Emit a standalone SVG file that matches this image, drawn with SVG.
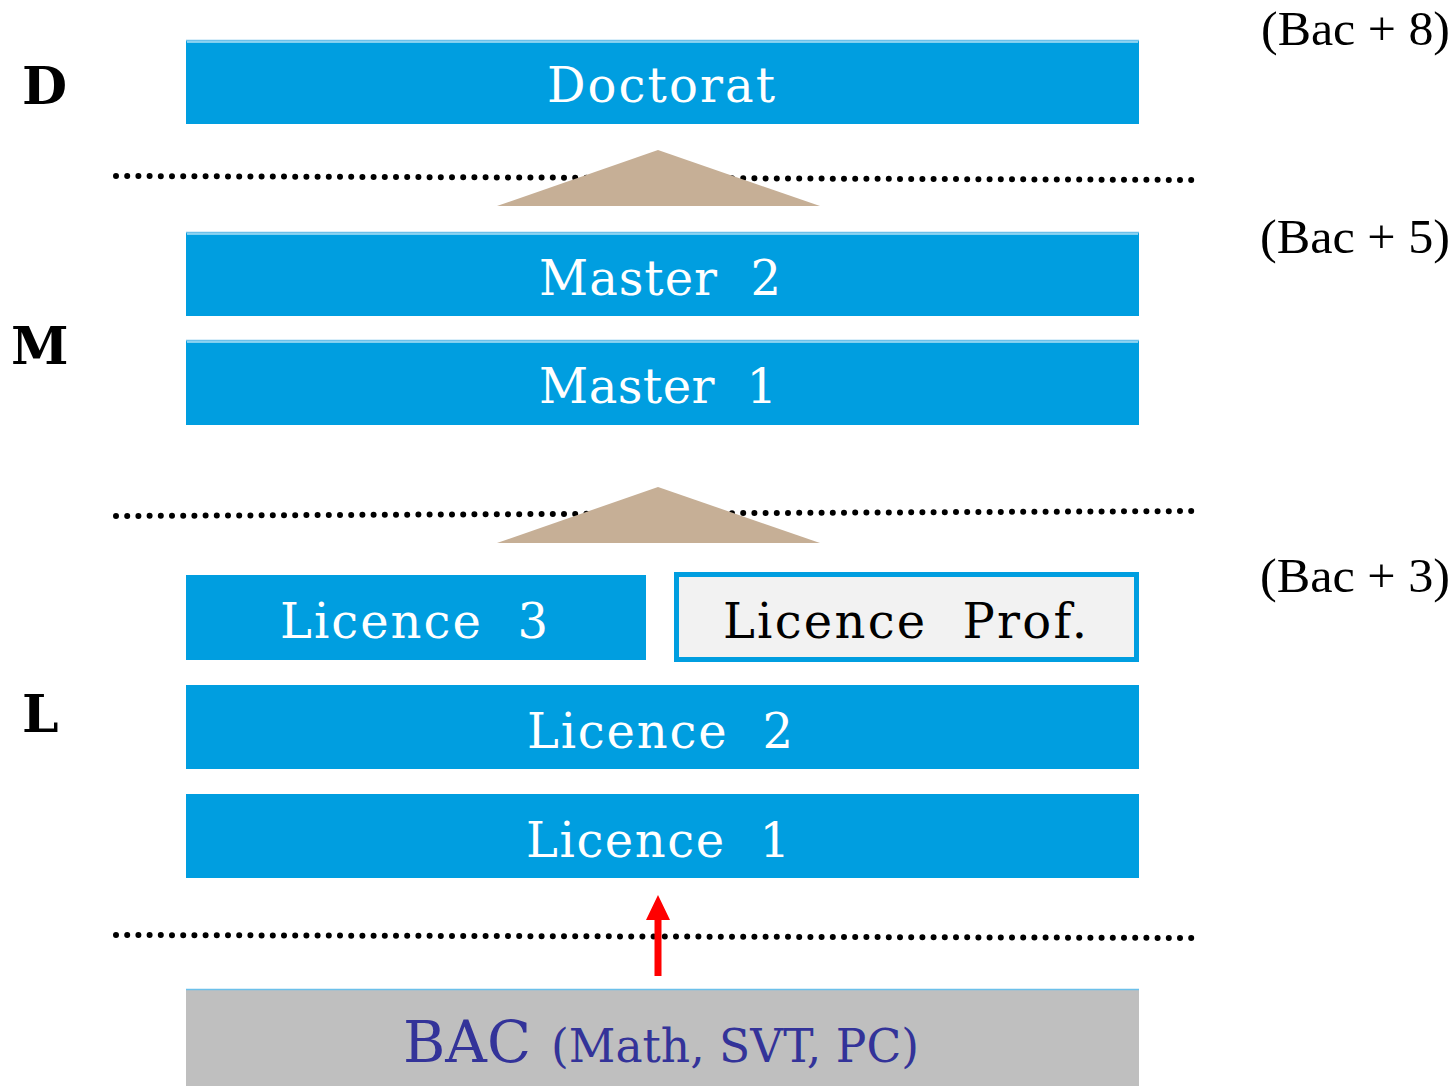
<svg xmlns="http://www.w3.org/2000/svg" width="1456" height="1086" viewBox="0 0 1456 1086">
<style>
.box{fill:#009ee0}
.top{stroke:#6cc0ea;stroke-width:1.5}
.lbl{font-family:"DejaVu Serif",serif;font-size:48px;fill:#ffffff;text-anchor:middle;white-space:pre}
.side{font-family:"DejaVu Serif",serif;font-weight:bold;font-size:52px;fill:#000}
.bac{font-family:"Liberation Serif",serif;font-size:48px;fill:#000}
.dots{stroke:#000;stroke-width:6;stroke-linecap:round;stroke-dasharray:0 11.2;fill:none}
.tri{fill:#c6af96}
</style>
<g id="connectors">
<line class="dots" x1="116" y1="176" x2="1199" y2="180"/>
<line class="dots" x1="116" y1="516" x2="1199" y2="511"/>
<line class="dots" x1="116" y1="935" x2="1199" y2="938"/>
<polygon class="tri" points="658,150 820,206 497,206"/>
<polygon class="tri" points="658,487 820,543 497,543"/>
<polygon fill="#ff0000" points="654.5,976 661.5,976 661.5,920 670,920 658,895 646,920 654.5,920"/>
</g>
<g id="side-labels">
<text class="side" x="22" y="104">D</text>
<text class="side" x="11" y="364">M</text>
<text class="side" x="22" y="732">L</text>
<text class="bac" x="1261" y="45" textLength="189" lengthAdjust="spacingAndGlyphs">(Bac + 8)</text>
<text class="bac" x="1260" y="253" textLength="190" lengthAdjust="spacingAndGlyphs">(Bac + 5)</text>
<text class="bac" x="1260" y="592" textLength="190" lengthAdjust="spacingAndGlyphs">(Bac + 3)</text>
</g>
<g id="doctorat">
<rect class="box" x="186" y="40" width="953" height="84"/>
<line class="top" x1="186" y1="40.5" x2="1139" y2="40.5"/>
<line stroke="#ffffff" stroke-width="1" x1="187" y1="42" x2="1138" y2="42"/>
<text class="lbl" x="661" y="102" textLength="228" lengthAdjust="spacing">Doctorat</text>
</g>
<g id="master2">
<rect class="box" x="186" y="232" width="953" height="84"/>
<line class="top" x1="186" y1="232.5" x2="1139" y2="232.5"/>
<line stroke="#ffffff" stroke-width="1" x1="187" y1="234" x2="1138" y2="234"/>
<text class="lbl" x="660" y="295" textLength="242" lengthAdjust="spacing" xml:space="preserve">Master  2</text>
</g>
<g id="master1">
<rect class="box" x="186" y="340" width="953" height="85"/>
<line class="top" x1="186" y1="340.5" x2="1139" y2="340.5"/>
<line stroke="#ffffff" stroke-width="1" x1="187" y1="342" x2="1138" y2="342"/>
<text class="lbl" x="658" y="403" textLength="238" lengthAdjust="spacing" xml:space="preserve">Master  1</text>
</g>
<g id="licence3">
<rect class="box" x="186" y="575" width="460" height="85"/>
<text class="lbl" x="414" y="638" textLength="268" lengthAdjust="spacing" xml:space="preserve">Licence  3</text>
</g>
<g id="licence-prof">
<rect x="676.5" y="574.5" width="460" height="85" fill="#f2f2f2" stroke="#009ee0" stroke-width="5"/>
<text class="lbl" x="905" y="638" style="fill:#000" textLength="364" lengthAdjust="spacing" xml:space="preserve">Licence  Prof.</text>
</g>
<g id="licence2">
<rect class="box" x="186" y="685" width="953" height="84"/>
<text class="lbl" x="660" y="748" textLength="266" lengthAdjust="spacing" xml:space="preserve">Licence  2</text>
</g>
<g id="licence1">
<rect class="box" x="186" y="794" width="953" height="84"/>
<text class="lbl" x="658" y="857" textLength="264" lengthAdjust="spacing" xml:space="preserve">Licence  1</text>
</g>
<g id="bac">
<rect x="186" y="989" width="953" height="97" fill="#bfbfbf"/>
<line stroke="#6cc0ea" stroke-width="1.5" x1="186" y1="989.5" x2="1139" y2="989.5"/>
<text y="1062" font-family="DejaVu Serif, serif" fill="#333399"><tspan x="403" font-size="58" textLength="128" lengthAdjust="spacingAndGlyphs">BAC</tspan><tspan x="551" font-size="46" textLength="368" lengthAdjust="spacingAndGlyphs">(Math, SVT, PC)</tspan></text>
</g>
</svg>
